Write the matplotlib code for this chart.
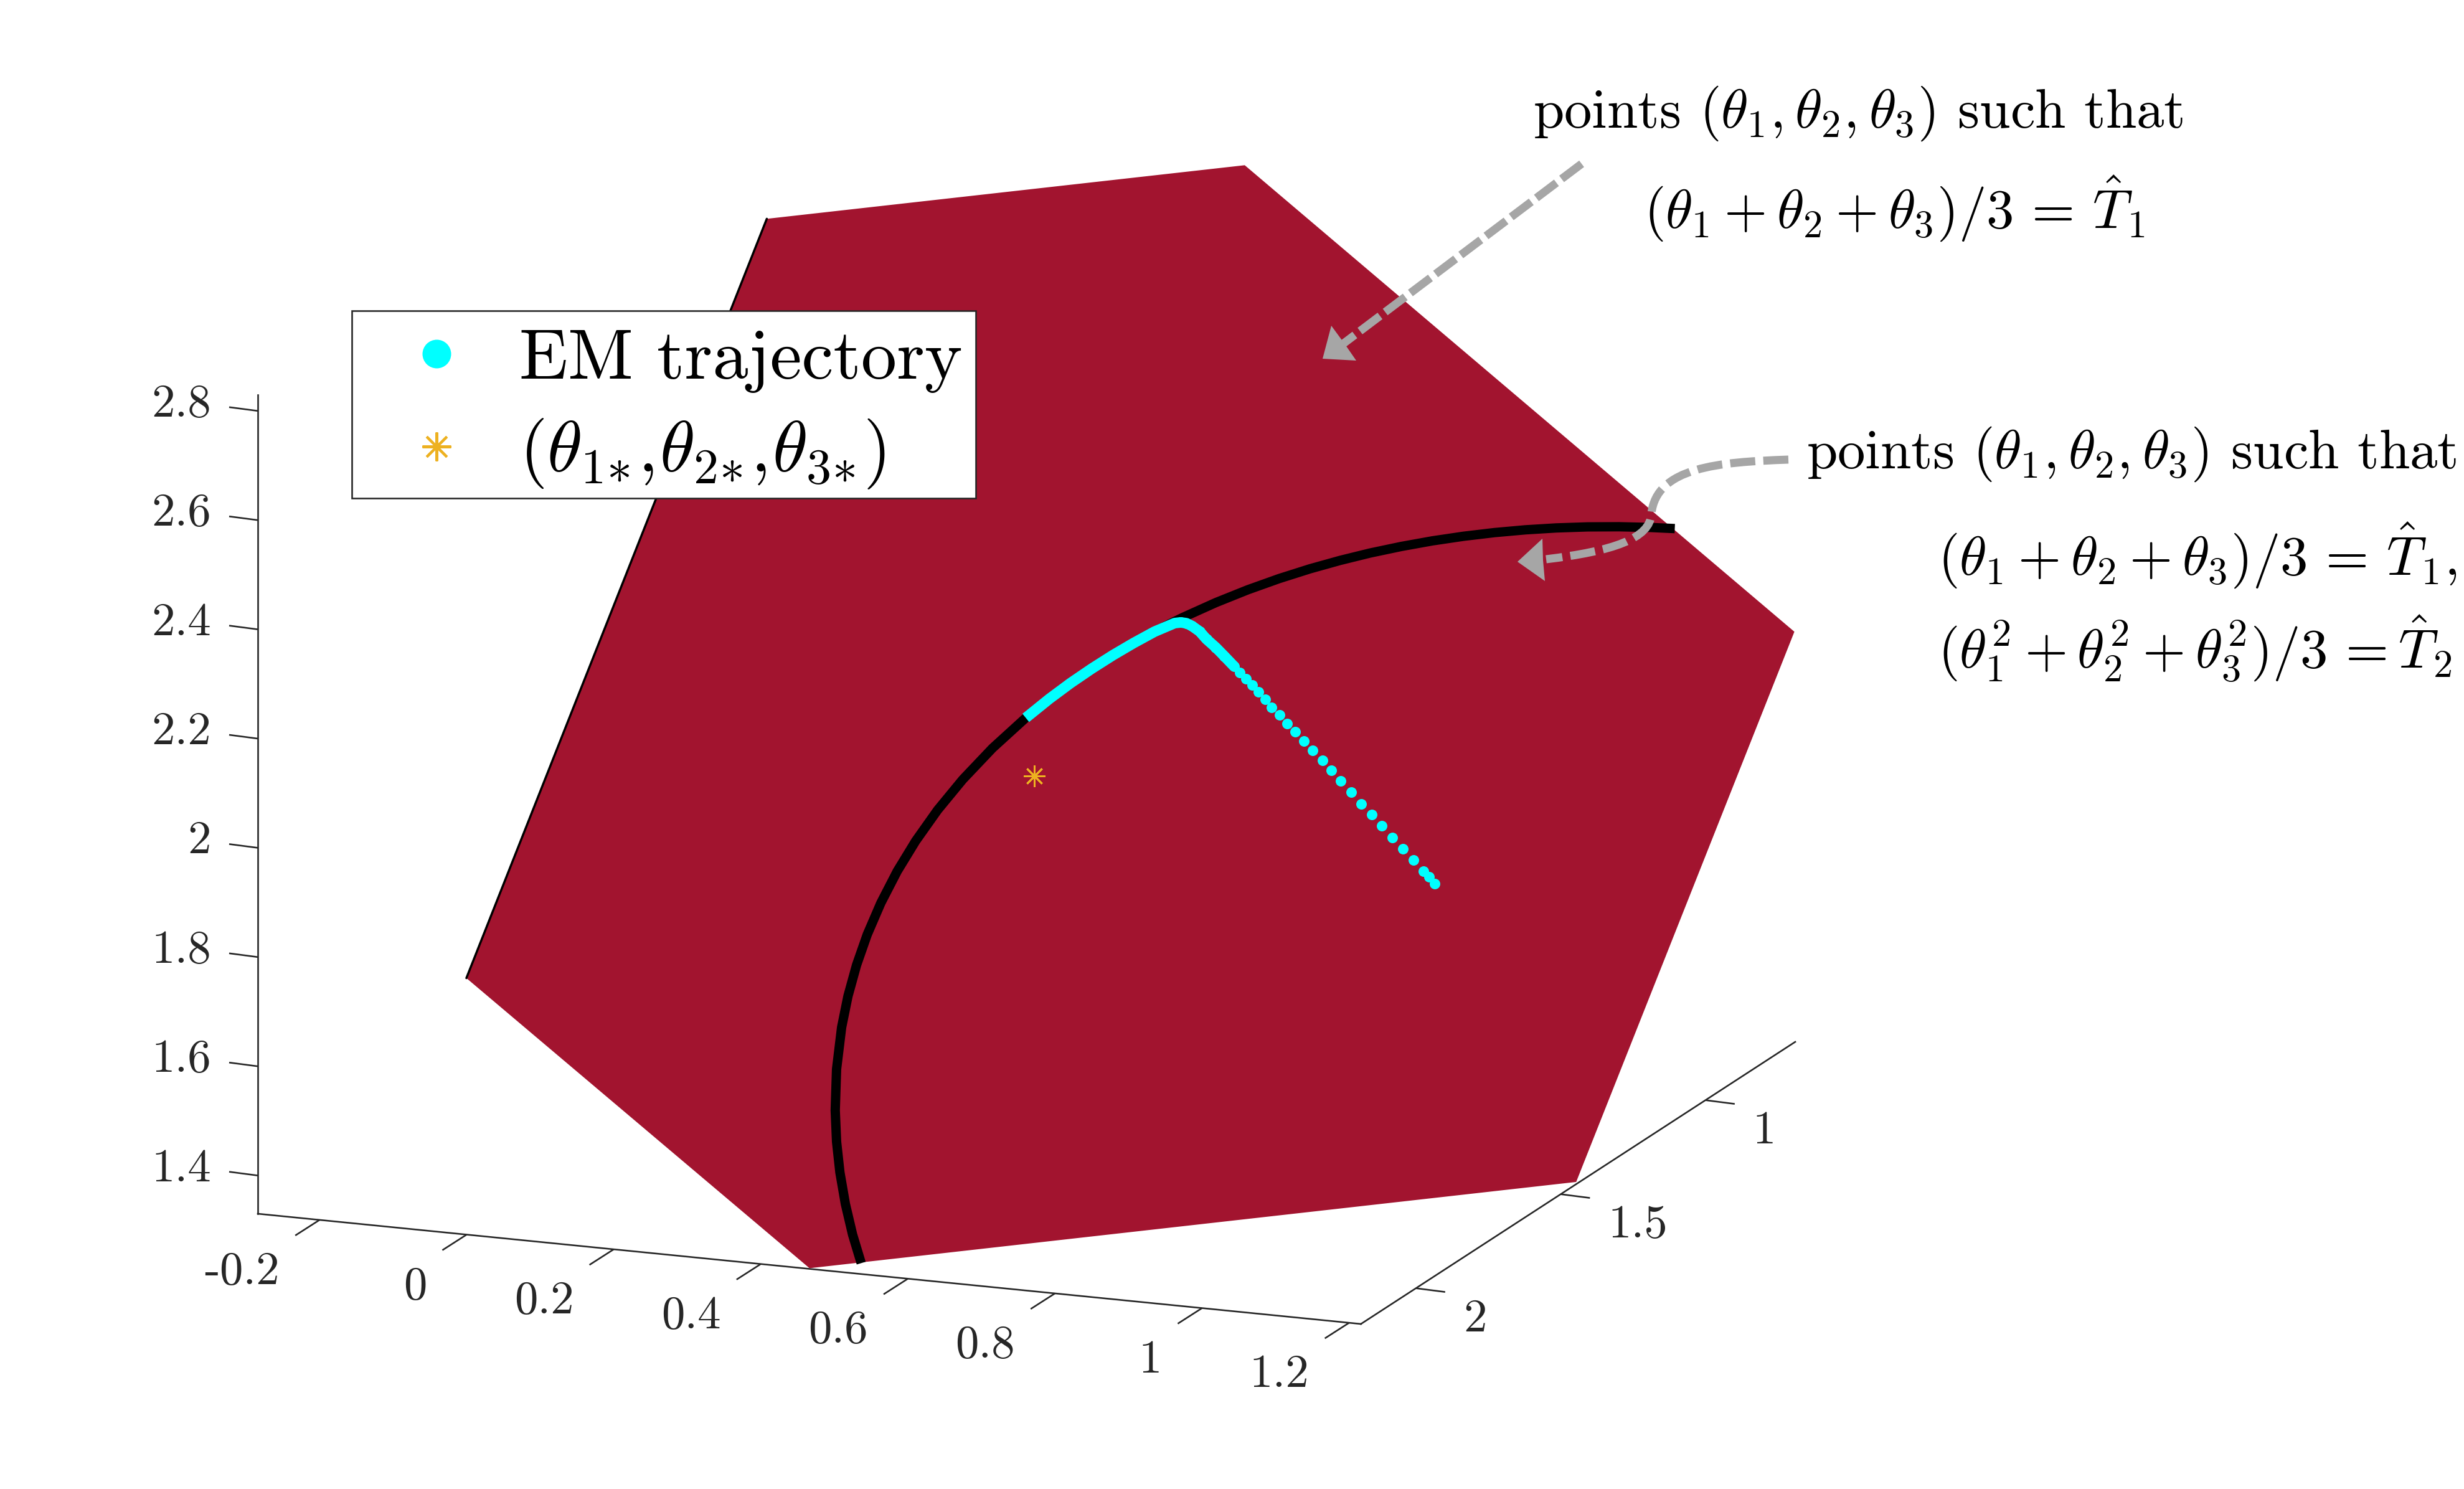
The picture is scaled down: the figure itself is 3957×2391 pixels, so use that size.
import matplotlib
matplotlib.use("Agg")
import matplotlib.pyplot as plt
from matplotlib.legend_handler import HandlerLine2D
from matplotlib.lines import Line2D
from matplotlib.path import Path
from matplotlib.patches import PathPatch, Polygon, Rectangle
import numpy as np

plt.rcParams['font.family'] = ['cmr10', 'DejaVu Sans']
plt.rcParams['mathtext.fontset'] = 'cm'
plt.rcParams['axes.unicode_minus'] = False
plt.rcParams['axes.formatter.use_mathtext'] = True

# ---- data (theta1, theta2, theta3) ----
x_lim = [-0.284, 1.216]
y_lim = [0.69, 2.19]
z_lim = [1.33, 2.83]
x_ticks = [-0.2, 0, 0.2, 0.4, 0.6, 0.8, 1, 1.2]
x_ticklabels = ['-0.2', '0', '0.2', '0.4', '0.6', '0.8', '1', '1.2']
y_ticks = [1, 1.5, 2]
y_ticklabels = ['1', '1.5', '2']
z_ticks = [1.4, 1.6, 1.8, 2, 2.2, 2.4, 2.6, 2.8]
z_ticklabels = ['1.4', '1.6', '1.8', '2', '2.2', '2.4', '2.6', '2.8']

plane_t1 = [0.469, 1.217, 1.218, 0.469, 0.003, 0.002]
plane_t2 = [2.197, 1.449, 0.698, 0.694, 1.161, 2.196]
plane_t3 = [1.334, 1.335, 2.084, 2.836, 2.836, 1.802]

curve_t1 = [0.5197,0.4994,0.4797,0.4614,0.4457,0.4317,0.4165,0.4048,0.3987,0.395,0.3936,0.3948,0.3987,0.4054,0.4153,0.4287,0.4464,0.4682,0.4847,0.4999,0.5157,0.5319,0.548,0.5649,0.5815,0.5882,0.6157,0.6432,0.6708,0.6983,0.7257,0.7532,0.7825,0.812,0.8417,0.872,0.9025,0.9332,0.9647,0.9967,1.0285,1.0544]
curve_t2 = [2.1473,2.1255,2.1004,2.0728,2.0444,2.0135,1.9703,1.9231,1.8857,1.8466,1.8062,1.7621,1.7155,1.6689,1.6183,1.5653,1.5077,1.4481,1.4081,1.374,1.341,1.309,1.279,1.2491,1.2209,1.21,1.1666,1.126,1.0874,1.0509,1.0164,0.9831,0.9494,0.9168,0.8856,0.855,0.8254,0.797,0.769,0.7418,0.7159,0.6956]
curve_t3 = [1.333,1.375,1.4199,1.4658,1.5099,1.5548,1.6132,1.6721,1.7155,1.7585,1.8002,1.8431,1.8857,1.9258,1.9664,2.006,2.0458,2.0837,2.1072,2.1261,2.1433,2.1591,2.173,2.186,2.1975,2.2018,2.2176,2.2308,2.2418,2.2508,2.258,2.2637,2.2681,2.2711,2.2727,2.273,2.272,2.2698,2.2663,2.2615,2.2556,2.25]

em_t1 = [0.952,0.944,0.936,0.921,0.906,0.891,0.875,0.86,0.845,0.83,0.815,0.801,0.788,0.774,0.761,0.749,0.737,0.726,0.715,0.705,0.695,0.686,0.677,0.668,0.66,0.646,0.634,0.621,0.611,0.601,0.594,0.588,0.582,0.5649,0.548,0.5319,0.5157,0.4999,0.4847,0.4682]
em_t2 = [1.265,1.263,1.262,1.259,1.257,1.255,1.252,1.249,1.247,1.244,1.241,1.239,1.236,1.234,1.232,1.23,1.229,1.226,1.226,1.223,1.221,1.22,1.218,1.217,1.216,1.214,1.213,1.212,1.21,1.211,1.213,1.217,1.223,1.2491,1.279,1.309,1.341,1.374,1.4081,1.4481]
em_t3 = [1.782,1.793,1.802,1.819,1.837,1.855,1.873,1.891,1.908,1.926,1.944,1.96,1.976,1.992,2.006,2.021,2.034,2.047,2.059,2.072,2.084,2.094,2.104,2.114,2.124,2.14,2.154,2.167,2.179,2.188,2.193,2.195,2.195,2.186,2.173,2.1591,2.1433,2.1261,2.1072,2.0837]
em_dense_from = 24   # from this iterate on the points merge into a band

star_t1 = [0.5]
star_t2 = [1.5]
star_t3 = [2.0]

legend_labels = ['EM trajectory', r'$(\theta_{1\!*\!},\!\theta_{2\!*\!},\!\theta_{3\!*\!})$']

# ---- colours ----
CRIMSON = '#A2142F'
CYAN = '#00FFFF'
GOLD = '#EDB120'
AX = '#262626'
GREY = '#A6A6A6'

W, H, DPI = 3957, 2391, 300
PX = 72.0 / DPI   # one pixel in points

fig = plt.figure(figsize=(W / DPI, H / DPI), dpi=DPI, facecolor='white')
ax = fig.add_axes([0, 0, 1, 1])
ax.set_xlim(0, W)
ax.set_ylim(H, 0)
ax.axis('off')


def project(t1, t2, t3):
    """Orthographic view of the 3-D axes box onto the canvas."""
    t1, t2, t3 = (np.asarray(v, float) for v in (t1, t2, t3))
    dx = t1 - x_lim[0]
    dy = t2 - y_lim[1]
    dz = t3 - z_lim[0]
    return 414 + 1181 * dx - 465 * dy, 1949 + 118 * dx + 302 * dy - 877 * dz


# plane polygon
ppx, ppy = project(plane_t1, plane_t2, plane_t3)
ax.add_patch(Polygon(np.column_stack([ppx, ppy]), closed=True, fc=CRIMSON, ec='none', zorder=1))
ax.plot(ppx[4:6], ppy[4:6], color='black', lw=3.5 * PX, solid_capstyle='round', zorder=1.1)

# box axes
axis_kw = dict(color=AX, lw=2.6 * PX, solid_capstyle='projecting', zorder=0.5)
for a, b, c in [(x_lim, [y_lim[1]] * 2, [z_lim[0]] * 2),
                ([x_lim[1]] * 2, y_lim, [z_lim[0]] * 2),
                ([x_lim[0]] * 2, [y_lim[1]] * 2, z_lim)]:
    lx, ly = project(a, b, c)
    ax.plot(lx, ly, **axis_kw)

tick_kw = dict(color=AX, lw=2.6 * PX, solid_capstyle='butt', zorder=0.5)
FS_TICK = 18.0
for v, lab in zip(x_ticks, x_ticklabels):
    tx, ty = project(v, y_lim[1], z_lim[0])
    ax.plot([tx, tx - 39], [ty, ty + 25], **tick_kw)
    ax.text(tx - 64, ty + 103, lab, ha='right', va='baseline', fontsize=FS_TICK, color=AX)
for v, lab in zip(y_ticks, y_ticklabels):
    tx, ty = project(x_lim[1], v, z_lim[0])
    ax.plot([tx, tx + 47], [ty, ty + 6], **tick_kw)
    ax.text(tx + 76, ty + 69, lab, ha='left', va='baseline', fontsize=FS_TICK, color=AX)
for v, lab in zip(z_ticks, z_ticklabels):
    tx, ty = project(x_lim[0], y_lim[1], v)
    ax.plot([tx, tx - 46], [ty, ty - 6], **tick_kw)
    ax.text(339, ty + 9, lab, ha='right', va='baseline', fontsize=FS_TICK, color=AX)

# black curve
cx, cy = project(curve_t1, curve_t2, curve_t3)
ax.plot(cx, cy, color='black', lw=15 * PX, solid_capstyle='butt', solid_joinstyle='round', zorder=2)

# EM trajectory
ex, ey = project(em_t1, em_t2, em_t3)
ax.plot(ex[em_dense_from:], ey[em_dense_from:], color=CYAN, lw=17 * PX,
        solid_capstyle='butt', solid_joinstyle='round', zorder=3)
ax.plot(ex[:em_dense_from + 8], ey[:em_dense_from + 8], ls='none', marker='o', ms=17 * PX,
        mfc=CYAN, mec='none', zorder=3)

# true parameter
sx, sy = project(star_t1, star_t2, star_t3)
ax.plot(sx, sy, ls='none', marker=(8, 2, 0), ms=34 * PX, mew=3 * PX, color=GOLD, zorder=4)

# annotation arrows
dash = dict(fc='none', ec=GREY, lw=13 * PX, capstyle='butt', zorder=6)
ax.add_patch(PathPatch(Path([(2540, 263), (2157, 552)]), ls=(0, (3.1, 0.8)), **dash))
ax.add_patch(Polygon([(2124, 576), (2138, 523), (2160, 553), (2178, 579)], closed=True, fc=GREY, ec='none', zorder=6))

ax.add_patch(PathPatch(Path([(2872, 738), (2760, 742), (2660, 750), (2652, 825),
                             (2650, 865), (2590, 885), (2483, 898)],
                            [Path.MOVETO, Path.CURVE4, Path.CURVE4, Path.CURVE4,
                             Path.CURVE4, Path.CURVE4, Path.CURVE4]),
                       ls=(0, (3.1, 1.0)), **dash))
ax.add_patch(Polygon([(2437, 902), (2477, 865), (2478, 900), (2481, 933)], closed=True, fc=GREY, ec='none', zorder=6))

# annotation texts
FS_NOTE = 21.35
note_kw = dict(fontsize=FS_NOTE, color='black', ha='left', va='baseline')
ax.text(2462, 205, r'points $(\theta_1,\theta_2,\theta_3)$ such that', **note_kw)
ax.text(2640, 366, r'$(\theta_1+\theta_2+\theta_3)/3\,=\,\hat{T}_1$', **note_kw)
ax.text(2901, 752, r'points $(\theta_1,\theta_2,\theta_3)$ such that', **note_kw)
ax.text(3112, 923, r'$(\theta_1+\theta_2+\theta_3)/3\,=\,\hat{T}_1,$', **note_kw)
ax.text(3112, 1072, r'$(\theta_1^2+\theta_2^2+\theta_3^2)/3\,=\hat{T}_2$', **note_kw)

# legend
ax.add_patch(Rectangle((565, 499), 1002, 301, fc='white', ec=AX, lw=2.6 * PX, zorder=4.9))
h_em = Line2D([], [], ls='none', marker='o', ms=46 * PX, mfc=CYAN, mec='none')
h_star = Line2D([], [], ls='none', marker=(8, 2, 0), ms=46 * PX, mew=4 * PX, color=GOLD)
leg = ax.legend([h_em, h_star], legend_labels, loc='upper left', bbox_to_anchor=(565, 499),
                bbox_transform=ax.transData, borderaxespad=0, fontsize=27.5,
                frameon=False, borderpad=0.25, handlelength=1.87, handletextpad=0.23,
                labelspacing=0.34,
                handler_map={h_em: HandlerLine2D(ypad=-0.09), h_star: HandlerLine2D()})
leg.set_zorder(5)

fig.savefig('out.png', dpi=DPI)
